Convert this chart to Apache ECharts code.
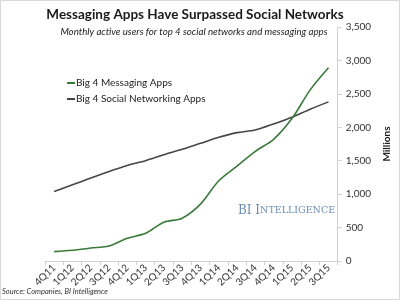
<!DOCTYPE html>
<html><head><meta charset="utf-8">
<script src="https://cdn.jsdelivr.net/npm/echarts@6/dist/echarts.min.js"></script>
<style>html,body{margin:0;padding:0;background:#fff}#c{width:400px;height:300px}</style>
</head><body><div id="c"></div>
<script>
const categories = ['4Q11','1Q12','2Q12','3Q12','4Q12','1Q13','2Q13','3Q13','4Q13','1Q14','2Q14','3Q14','4Q14','1Q15','2Q15','3Q15'];
const messaging = [140,160,195,225,340,415,580,640,850,1200,1420,1640,1820,2130,2560,2890];
const social = [1040,1140,1240,1340,1430,1500,1590,1670,1760,1850,1920,1960,2050,2150,2270,2380];
const yTicks = [0,500,1000,1500,2000,2500,3000,3500];

const chart = echarts.init(document.getElementById('c'), null, {renderer:'canvas'});
chart.setOption({
  backgroundColor:'#fff',
  animation:false,
  title:[{
    text:'Messaging Apps Have Surpassed Social Networks',
    left:190, top:3, textAlign:'center',
    textStyle:{fontFamily:'Lato', fontWeight:'bold', fontSize:13.5, color:'#1a1a1a'}
  },{
    text:'Monthly active users for top 4 social networks and messaging apps',
    left:189, top:22, textAlign:'center',
    textStyle:{fontFamily:'Lato', fontStyle:'italic', fontWeight:'normal', fontSize:9.7, color:'#222'}
  }],
  legend:{
    orient:'vertical', left:62, top:73, itemGap:6,
    itemWidth:8, itemHeight:2, icon:'rect',
    textStyle:{fontFamily:'Lato', fontSize:10, color:'#222', padding:[0,0,0,-4]},
    data:['Big 4 Messaging Apps','Big 4 Social Networking Apps']
  },
  grid:{left:45, right:52, top:27, bottom:39},
  xAxis:{
    type:'category', data:categories, boundaryGap:true,
    axisLine:{lineStyle:{color:'#d0d0d0'}},
    axisTick:{show:true, alignWithLabel:false, length:4, lineStyle:{color:'#d0d0d0'}},
    axisLabel:{rotate:45, interval:0, fontFamily:'Lato', fontSize:10, color:'#333', margin:5}
  },
  yAxis:{
    type:'value', position:'right', min:0, max:3500, interval:500,
    name:'Millions', nameLocation:'middle', nameGap:37, nameRotate:90,
    nameTextStyle:{fontFamily:'Lato', fontWeight:'bold', fontSize:10, color:'#222'},
    axisLine:{show:true, lineStyle:{color:'#d0d0d0'}},
    axisTick:{show:true, length:4, lineStyle:{color:'#d0d0d0'}},
    splitLine:{show:false},
    axisLabel:{fontFamily:'Lato', fontSize:10, color:'#333', margin:8,
      formatter:v=>yTicks.includes(v)?v.toLocaleString('en-US'):''}
  },
  series:[{
    name:'Big 4 Messaging Apps', type:'line', data:messaging, smooth:0.3,
    showSymbol:false, lineStyle:{color:'#3a7a3a', width:1.6}, itemStyle:{color:'#3a7a3a'}, z:3
  },{
    name:'Big 4 Social Networking Apps', type:'line', data:social, smooth:0.3,
    showSymbol:false, lineStyle:{color:'#454545', width:1.6}, itemStyle:{color:'#454545'}, z:2
  }],
  graphic:[{
    type:'text', left:238, top:205,
    style:{text:'{a|BI I}{b|NTELLIGENCE}', rich:{
      a:{fontFamily:'DejaVu Serif', fontSize:12, fill:'#6a8db5'},
      b:{fontFamily:'DejaVu Serif', fontSize:9.5, fill:'#6a8db5'}}}
  },{
    type:'text', left:2, top:288,
    style:{text:'Source: Companies, BI Intelligence', fontFamily:'Lato', fontStyle:'italic', fontSize:7.5, fill:'#333'}
  },{
    type:'rect', shape:{x:0.5, y:0.5, width:399, height:299},
    style:{fill:'none', stroke:'#d8d8d8', lineWidth:1}, silent:true
  }]
});
</script></body></html>
